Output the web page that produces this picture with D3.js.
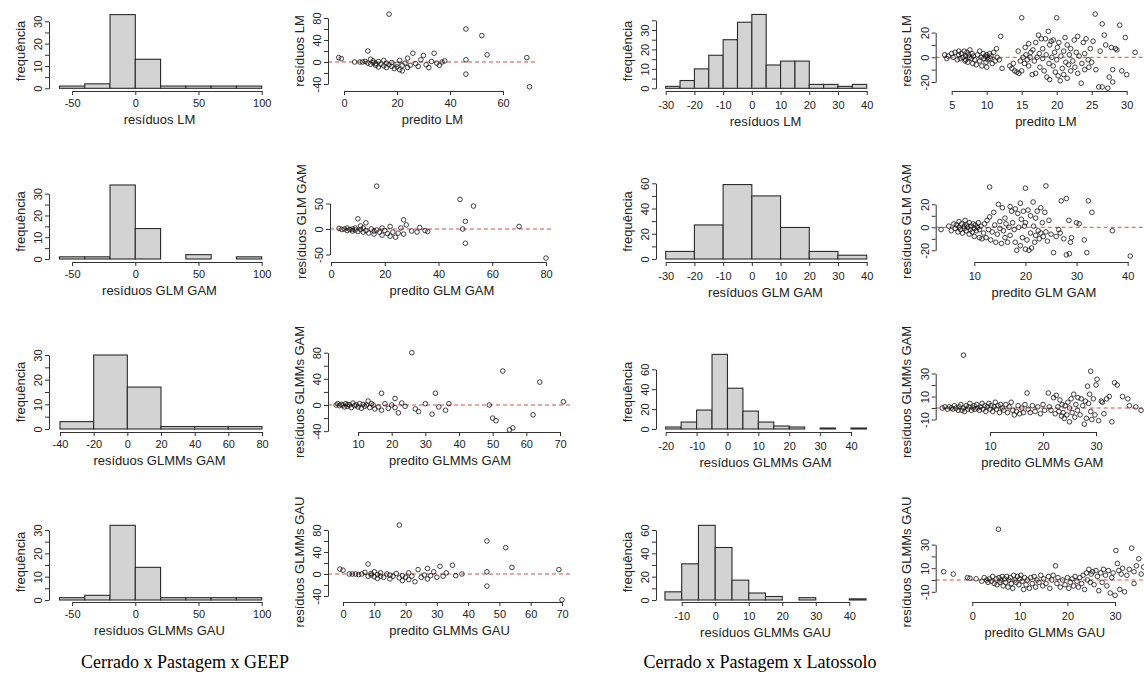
<!DOCTYPE html>
<html>
<head>
<meta charset="utf-8">
<script src="https://cdn.jsdelivr.net/npm/d3@7"></script>
<style>
  body { margin: 0; background: #fff; }
  svg text { font-family: "Liberation Sans", Arial, sans-serif; fill: #222; }
  .caption { font-family: "Liberation Serif", "Times New Roman", serif; font-size: 18px; fill: #000; }
</style>
</head>
<body>
<svg id="fig" width="1144" height="679"></svg>
<script>
// ---- histogram data (breaks + counts) ----
var lmGeepBreaks = [-60, -40, -20, 0, 20, 40, 60, 80, 100];
var lmGeepCounts = [1, 2, 33, 13, 1, 1, 1, 1];
var glmGeepBreaks = [-60, -40, -20, 0, 20, 40, 60, 80, 100];
var glmGeepCounts = [1, 1, 34, 14, 0, 2, 0, 1];
var gamGeepBreaks = [-40, -20, 0, 20, 40, 60, 80];
var gamGeepCounts = [3, 30, 17, 1, 1, 1];
var gauGeepBreaks = [-60, -40, -20, 0, 20, 40, 60, 80, 100];
var gauGeepCounts = [1, 2, 32, 14, 1, 1, 1, 1];

var lmLatBreaks = [-30, -25, -20, -15, -10, -5, 0, 5, 10, 15, 20, 25, 30, 35, 40];
var lmLatCounts = [1, 4, 10, 17, 25, 34, 38, 12, 14, 14, 2, 2, 1, 2];
var glmLatBreaks = [-30, -20, -10, 0, 10, 20, 30, 40];
var glmLatCounts = [6, 27, 59, 50, 25, 6, 3];
var gamLatBreaks = [-20, -15, -10, -5, 0, 5, 10, 15, 20, 25, 30, 35, 40, 45];
var gamLatCounts = [2, 7, 19, 75, 41, 18, 7, 3, 2, 0, 1, 0, 1];
var gauLatBreaks = [-15, -10, -5, 0, 5, 10, 15, 20, 25, 30, 35, 40, 45];
var gauLatCounts = [7, 31, 64, 45, 17, 6, 3, 0, 2, 0, 0, 1];

// ---- residual vs fitted (predito, resíduo) ----
var lmGeepPts = [[-2,8],[-1,6],[4,0],[6,0],[7,0],[8,1],[9,-2],[9,20],[10,5],[10,-4],[11,-1],[11,2],[12,-6],[12,-3],[13,-9],[13,1],[14,-4],[15,-7],[15,3],[16,-2],[16,-10],[17,87],[17,-5],[18,-1],[18,-8],[19,-12],[20,-4],[20,-9],[21,3],[21,-14],[22,-6],[22,-16],[23,-2],[24,7],[24,-10],[25,-6],[26,16],[27,-3],[28,-8],[29,4],[30,12],[31,-5],[32,-10],[33,1],[34,16],[35,-2],[36,-6],[37,0],[38,2],[46,60],[46,4],[46,-22],[52,48],[54,13],[69,8],[70,-45]];
var glmGeepPts = [[3,1],[4,-1],[5,0],[6,2],[6,-3],[7,-1],[8,0],[8,-4],[9,2],[9,-2],[10,-5],[10,20],[11,-1],[11,6],[12,-6],[12,2],[13,-3],[13,12],[14,-8],[15,0],[16,-4],[16,-10],[17,84],[17,-2],[18,-6],[19,-12],[19,2],[20,-3],[21,-9],[22,-14],[22,5],[23,-6],[24,-16],[25,-8],[26,2],[27,18],[27,-10],[28,8],[30,-4],[32,-6],[33,3],[35,-3],[36,-5],[48,58],[49,0],[50,15],[50,-28],[53,45],[70,5],[80,-57]];
var gamGeepPts = [[3.5,0],[4,2],[4.5,-1],[5,1],[5.5,0],[6,-3],[6.3,2],[6.8,-2],[7,1],[7.5,0],[8,-4],[8.5,3],[9,-1],[9.5,0],[10,-3],[10.5,2],[11,-5],[11.5,1],[12,-2],[12.5,0],[13,6],[13.5,-4],[14,2],[14.5,0],[15,-6],[16,-3],[17,18],[17,-8],[18,2],[19,-5],[20,0],[21,10],[21,-4],[22,-12],[23,3],[24,-2],[26,80],[27,-6],[28,-10],[30,2],[32,-14],[33,18],[34,-3],[36,-8],[37,2],[49,0],[50,-20],[51,-24],[53,52],[55,-38],[56,-35],[62,-15],[64,35],[71,5]];
var gauGeepPts = [[-1,9],[0,7],[2,0],[3,0],[4,0],[5,-1],[6,0],[7,3],[8,18],[8,-4],[9,1],[9,-2],[10,-5],[10,4],[11,-1],[11,-8],[12,2],[12,-4],[13,-6],[14,0],[15,-9],[15,-2],[16,-4],[17,1],[18,89],[18,-7],[19,-3],[19,-12],[20,-6],[21,2],[21,-10],[22,-4],[23,-14],[24,8],[25,-6],[26,-2],[27,10],[27,-9],[28,-3],[29,4],[30,-6],[31,14],[32,-4],[33,2],[35,16],[36,-3],[38,0],[46,60],[46,4],[46,-22],[52,48],[54,12],[69,8],[70,-47]];

var lmLatPts = [[4,2],[4.3,-1],[4.5,1],[5,3],[5.2,0],[5.5,4],[5.8,-2],[6,2],[6,5],[6.2,-1],[6.4,3],[6.6,0],[6.8,5],[6.9,-3],[7,1],[7,-2],[7.2,4],[7.3,-4],[7.4,2],[7.5,0],[7.6,6],[7.8,-1],[7.9,3],[8,-5],[8.1,1],[8.3,-2],[8.5,-6],[8.7,2],[9,-3],[9,5],[9.2,0],[9.3,-7],[9.5,3],[9.6,-1],[9.8,1],[9.9,-4],[10,2],[10,-8],[10.1,0],[10.2,-2],[10.4,3],[10.5,-1],[10.6,1],[10.8,-5],[11,4],[11.2,-3],[11.4,7],[11.5,0],[11.8,-2],[12,17],[12.2,-9],[13.3,-7],[13.6,-9],[13.8,-5],[14,-11],[14.3,-12],[14.5,5],[14.6,-13],[14.8,-3],[15,32],[15,-11],[15.2,0],[15.4,-5],[15.5,8],[15.6,2],[15.8,-2],[16,11],[16,-7],[16.2,0],[16.3,4],[16.5,-14],[16.6,6],[16.8,-3],[17,12],[17,-13],[17.2,0],[17.4,18],[17.5,3],[17.6,-8],[17.8,15],[18,-1],[18,7],[18.2,-11],[18.4,15],[18.5,2],[18.6,-16],[18.8,21],[18.9,-5],[19,10],[19,-18],[19.2,13],[19.3,0],[19.5,-7],[19.5,14],[19.7,4],[19.8,-12],[20,32],[20,-2],[20.1,8],[20.2,-15],[20.3,12],[20.5,-19],[20.6,1],[20.8,-9],[21,5],[21,-14],[21.2,16],[21.3,-4],[21.5,-17],[21.5,10],[21.7,-6],[21.8,2],[22,-11],[22,7],[22.3,-3],[22.5,14],[22.6,-8],[22.8,4],[23,-13],[23,17],[23.2,1],[23.5,-21],[23.6,-5],[23.8,12],[24,-10],[24,3],[24.2,15],[24.5,-2],[24.6,-8],[24.8,7],[25,-4],[25.2,13],[25.5,35],[25.6,-10],[26,-24],[26.2,5],[26.5,27],[26.5,-24],[26.8,18],[27,10],[27.3,-25],[27.5,-16],[27.8,8],[28,-20],[28,-10],[28.4,7],[28.6,6],[29,26],[29.3,-11],[29.8,16],[30,-14],[31.2,4],[33,5]];
var glmLatPts = [[3.5,-2],[5,1],[5.5,-3],[6,3],[6.3,-1],[6.5,2],[6.8,-4],[7,0],[7,5],[7.3,-2],[7.5,3],[7.7,-5],[8,1],[8,-1],[8.2,6],[8.4,-3],[8.5,2],[8.7,0],[9,-6],[9,4],[9.2,-2],[9.4,1],[9.6,-4],[9.8,3],[10,-1],[10,-8],[10.2,2],[10.4,-3],[10.6,0],[10.8,4],[11,-9],[11,-2],[11.3,1],[11.5,-10],[11.8,-5],[12,3],[12.3,-9],[12.5,6],[12.8,-2],[13,35],[13,9],[13.2,-11],[13.5,-4],[13.8,13],[14,2],[14.2,-13],[14.5,-6],[14.7,20],[15,5],[15,-1],[15.3,-14],[15.5,17],[15.7,-3],[16,8],[16,-9],[16.2,3],[16.5,-13],[16.8,0],[17,18],[17,-7],[17.3,14],[17.5,4],[17.8,-2],[18,16],[18,-13],[18.3,-20],[18.5,12],[18.7,0],[19,21],[19,-16],[19.2,7],[19.4,-9],[19.6,14],[19.8,1],[20,34],[20,-19],[20,4],[20.3,-11],[20.5,15],[20.7,-20],[21,10],[21,-5],[21.2,-18],[21.5,22],[21.6,1],[21.8,-13],[22,8],[22,-7],[22.3,14],[22.5,-3],[22.7,-10],[23,17],[23,-5],[23.3,4],[23.5,-8],[23.8,13],[24,36],[24,-4],[24.3,-12],[24.6,6],[25,-6],[25.5,-22],[26,-8],[26.5,-2],[26.8,-5],[27,23],[27.5,-10],[28,25],[28,-24],[28.5,6],[28.6,-23],[28.8,-13],[29,-9],[30,4],[30.5,3],[31.5,-11],[32,-22],[32.3,23],[33,13],[37,-3],[40.5,-25]];
var gamLatPts = [[1,0],[1.5,1],[2,-1],[2.3,1],[2.7,0],[3,-1],[3.3,2],[3.6,0],[4,-2],[4.2,1],[4.5,3],[4.7,-2],[5,46],[5,0],[5.2,-3],[5.5,2],[5.8,-1],[6,1],[6.2,4],[6.5,-2],[6.8,0],[7,2],[7.2,-1],[7.5,3],[7.7,0],[8,-2],[8.2,1],[8.5,4],[8.7,-1],[9,2],[9.2,-3],[9.5,1],[9.8,4],[10,-1],[10.2,2],[10.5,-3],[10.8,1],[11,5],[11.2,-1],[11.5,2],[11.8,-4],[12,3],[12.3,0],[12.6,-2],[13,3],[13.3,-4],[13.6,1],[14,5],[14.3,-2],[14.6,-6],[15,-3],[15.3,2],[15.6,-5],[16,0],[16.3,-4],[16.6,3],[17,13],[17.2,-1],[17.6,-4],[18,2],[18.5,-3],[19,1],[19.5,-5],[20,3],[20.3,-2],[21,13],[21.2,1],[21.5,-2],[22,9],[22.3,-5],[22.5,11],[22.8,1],[23,-3],[23.2,7],[23.5,-7],[23.6,3],[23.8,-4],[24,-9],[24.2,2],[24.5,-6],[24.7,5],[25,-12],[25,0],[25.3,8],[25.5,-4],[25.8,12],[26,-8],[26.2,3],[26.5,-2],[26.6,9],[27,-6],[27.2,8],[27.5,2],[27.8,-14],[28,6],[28.2,-9],[28.4,19],[28.6,4],[28.8,12],[29,32],[29,-3],[29.2,-10],[29.5,8],[29.8,-6],[30,20],[30.2,25],[30.5,-11],[31,6],[31.2,5],[31.5,-5],[32,8],[32.5,10],[33,-12],[33.5,22],[34,20],[35,10],[36,8],[36.3,2],[37.5,1],[38.5,-2]];
var gauLatPts = [[-6,7],[-4,5],[-1,2],[-0.5,1.5],[0.8,1],[2,-1],[2.5,2],[3,0],[3.3,-2],[3.6,1],[4,-1],[4.3,3],[4.6,-3],[5,1],[5.2,-4],[5.5,43],[5.6,2],[5.8,-2],[6,0],[6.3,3],[6.5,-5],[6.8,1],[7,-2],[7.2,3],[7.5,-6],[7.7,0],[8,2],[8.2,-3],[8.5,-7],[8.7,4],[9,0],[9.2,-2],[9.5,3],[9.8,-4],[10,1],[10.2,4],[10.5,-1],[10.8,-8],[11,2],[11.3,-4],[11.6,0],[12,-7],[12.3,2],[12.6,-3],[13,3],[13.3,-6],[13.6,0],[14,-2],[14.4,4],[14.8,-5],[15,1],[15.5,-3],[16,3],[16.3,-7],[16.7,0],[17,4],[17.5,12],[17.8,-3],[18,2],[18.5,-6],[19,0],[19.5,-4],[20,2],[20.3,-7],[20.6,-2],[21,1],[21.3,-5],[21.6,3],[22,-1],[22.3,-6],[22.6,2],[23,-3],[23.3,4],[23.6,-8],[24,6],[24.2,0],[24.5,9],[24.8,-2],[25,5],[25.3,7],[25.6,-4],[26,8],[26.3,3],[26.6,-9],[27,6],[27.3,-2],[27.6,9],[28,4],[28.3,-5],[28.6,8],[29,-11],[29.3,2],[29.6,6],[30,-13],[30.2,25],[30.5,14],[30.8,8],[31,-8],[31.3,5],[31.6,10],[32,-10],[32.5,4],[33,9],[33.5,27],[34,7],[34,-3],[34.5,12],[35,18],[35.5,5],[36,11]];

// ---- tick values ----
var ticksGeepHist = [-50, 0, 50, 100];
var ticksGamGeepHist = [-40, -20, 0, 20, 40, 60, 80];
var ticksFreq5 = [0, 5, 10, 15, 20, 25, 30];
var ticksLatHist = [-30, -20, -10, 0, 10, 20, 30, 40];
var ticksGamLatHist = [-20, -10, 0, 10, 20, 30, 40];
var ticksGauLatHist = [-10, 0, 10, 20, 30, 40];
var ticksFreq35 = [0, 5, 10, 15, 20, 25, 30, 35];
var ticksFreq60 = [0, 10, 20, 30, 40, 50, 60];
var ticksFreq60b = [0, 20, 40, 60];

var svg = d3.select("#fig");

// layout for each panel: anchors map two data values to pixels, plus the plot box
var panels = [
  // Cerrado x Pastagem x GEEP
  {kind: "hist", breaks: lmGeepBreaks, counts: lmGeepCounts, xa: [0, 100], xp: [135.3, 261.7], ya: [0, 30], yp: [88.3, 21.3],
   left: 49, right: 270, top: 11, bottom: 91, xt: ticksGeepHist, yt: ticksFreq5, yl: [0, 10, 20, 30], xtitle: "resíduos LM", ytitle: "frequência", side: "L"},
  {kind: "scat", pts: lmGeepPts, xa: [0, 60], xp: [344, 503], ya: [0, 80], yp: [62, 18],
   left: 328, right: 537, top: 11, bottom: 91, xt: [0, 20, 40, 60], yt: [-40, -20, 0, 20, 40, 60, 80], yl: [-40, 0, 40, 80], xtitle: "predito LM", ytitle: "resíduos LM", side: "L"},
  {kind: "hist", breaks: glmGeepBreaks, counts: glmGeepCounts, xa: [0, 100], xp: [135.3, 261.7], ya: [0, 30], yp: [259, 193.7],
   left: 49, right: 270, top: 181, bottom: 262, xt: ticksGeepHist, yt: ticksFreq5, yl: [0, 10, 20, 30], xtitle: "resíduos GLM GAM", ytitle: "frequência", side: "L"},
  {kind: "scat", pts: glmGeepPts, xa: [0, 80], xp: [331, 546], ya: [0, 50], yp: [229, 203.5],
   left: 330, right: 554, top: 181, bottom: 262, xt: [0, 20, 40, 60, 80], yt: [-50, 0, 50], yl: [-50, 0, 50], xtitle: "predito GLM GAM", ytitle: "resíduos GLM GAM", side: "L"},
  {kind: "hist", breaks: gamGeepBreaks, counts: gamGeepCounts, xa: [-40, 80], xp: [60, 262], ya: [0, 30], yp: [429, 355],
   left: 49, right: 270, top: 352, bottom: 432, xt: ticksGamGeepHist, yt: ticksFreq5, yl: [0, 10, 20, 30], xtitle: "resíduos GLMMs GAM", ytitle: "frequência", side: "L"},
  {kind: "scat", pts: gamGeepPts, xa: [10, 70], xp: [358, 560], ya: [0, 80], yp: [405, 352.7],
   left: 328, right: 572, top: 352, bottom: 432, xt: [10, 20, 30, 40, 50, 60, 70], yt: [-40, -20, 0, 20, 40, 60, 80], yl: [-40, 0, 40, 80], xtitle: "predito GLMMs GAM", ytitle: "resíduos GLMMs GAM", side: "L"},
  {kind: "hist", breaks: gauGeepBreaks, counts: gauGeepCounts, xa: [0, 100], xp: [135.3, 261.7], ya: [0, 30], yp: [600, 530],
   left: 49, right: 270, top: 522, bottom: 602, xt: ticksGeepHist, yt: ticksFreq5, yl: [0, 10, 20, 30], xtitle: "resíduos GLMMs GAU", ytitle: "frequência", side: "L"},
  {kind: "scat", pts: gauGeepPts, xa: [0, 70], xp: [343, 562], ya: [0, 80], yp: [574, 530],
   left: 328, right: 571, top: 522, bottom: 602, xt: [0, 10, 20, 30, 40, 50, 60, 70], yt: [-40, -20, 0, 20, 40, 60, 80], yl: [-40, 0, 40, 80], xtitle: "predito GLMMs GAU", ytitle: "resíduos GLMMs GAU", side: "L"},

  // Cerrado x Pastagem x Latossolo
  {kind: "hist", breaks: lmLatBreaks, counts: lmLatCounts, xa: [-30, 40], xp: [665.7, 866.7], ya: [0, 30], yp: [88.3, 30],
   left: 656, right: 875, top: 11, bottom: 91, xt: ticksLatHist, yt: ticksFreq35, yl: [0, 10, 20, 30], xtitle: "resíduos LM", ytitle: "frequência", side: "R"},
  {kind: "scat", pts: lmLatPts, xa: [5, 30], xp: [951.7, 1126.7], ya: [0, 20], yp: [57.3, 32.6],
   left: 935.7, right: 1156, top: 11, bottom: 91, xt: [5, 10, 15, 20, 25, 30], yt: [-20, -10, 0, 10, 20], yl: [-20, 0, 20], xtitle: "predito LM", ytitle: "resíduos LM", side: "R"},
  {kind: "hist", breaks: glmLatBreaks, counts: glmLatCounts, xa: [-30, 40], xp: [665.7, 866.7], ya: [0, 60], yp: [259, 183.3],
   left: 656, right: 875, top: 181, bottom: 262, xt: ticksLatHist, yt: ticksFreq60, yl: [0, 20, 40, 60], xtitle: "resíduos GLM GAM", ytitle: "frequência", side: "R"},
  {kind: "scat", pts: glmLatPts, xa: [10, 40], xp: [974.3, 1127.7], ya: [0, 20], yp: [227.3, 204.3],
   left: 935.7, right: 1152, top: 181, bottom: 262, xt: [10, 20, 30, 40], yt: [-20, -10, 0, 10, 20], yl: [-20, 0, 20], xtitle: "predito GLM GAM", ytitle: "resíduos GLM GAM", side: "R"},
  {kind: "hist", breaks: gamLatBreaks, counts: gamLatCounts, xa: [-20, 40], xp: [665.7, 851], ya: [0, 60], yp: [429, 369.3],
   left: 656, right: 875, top: 352, bottom: 432, xt: ticksGamLatHist, yt: ticksFreq60b, yl: [0, 20, 40, 60], xtitle: "resíduos GLMMs GAM", ytitle: "frequência", side: "R"},
  {kind: "scat", pts: gamLatPts, xa: [10, 30], xp: [990, 1096], ya: [0, 10], yp: [408, 396.5],
   left: 935.7, right: 1149, top: 352, bottom: 432, xt: [10, 20, 30], yt: [-10, 0, 10, 20, 30], yl: [-10, 10, 30], xtitle: "predito GLMMs GAM", ytitle: "resíduos GLMMs GAM", side: "R"},
  {kind: "hist", breaks: gauLatBreaks, counts: gauLatCounts, xa: [-10, 40], xp: [681.7, 849.3], ya: [0, 60], yp: [600, 530],
   left: 656, right: 875, top: 522, bottom: 602, xt: ticksGauLatHist, yt: ticksFreq60, yl: [0, 20, 40, 60], xtitle: "resíduos GLMMs GAU", ytitle: "frequência", side: "R"},
  {kind: "scat", pts: gauLatPts, xa: [0, 30], xp: [972.3, 1115], ya: [0, 10], yp: [580, 568.2],
   left: 935.7, right: 1154, top: 522, bottom: 602, xt: [0, 10, 20, 30], yt: [-10, 0, 10, 20, 30], yl: [-10, 10, 30], xtitle: "predito GLMMs GAU", ytitle: "resíduos GLMMs GAU", side: "R"}
];

var tickFont = 11, titleFont = 13;

function drawAxes(g, p, x, y) {
  var xt = p.xt, yt = p.yt;
  var labOff = p.side == "L" ? 12 : 14;
  // x axis: line only spans first..last tick, like base R
  var xs = x.copy().domain([xt[0], xt[xt.length - 1]]).range([x(xt[0]), x(xt[xt.length - 1])]);
  var ax = g.append("g")
    .attr("transform", "translate(0," + p.bottom + ")")
    .call(d3.axisBottom(xs).tickValues(xt).tickSize(4).tickSizeOuter(0).tickFormat(function (d) { return String(d); }));
  ax.selectAll("text").attr("y", labOff).attr("dy", "0.35em").style("font-size", tickFont + "px");

  var ys = y.copy().domain([yt[0], yt[yt.length - 1]]).range([y(yt[0]), y(yt[yt.length - 1])]);
  var ay = g.append("g")
    .attr("transform", "translate(" + p.left + ",0)")
    .call(d3.axisLeft(ys).tickValues(yt).tickSize(4).tickSizeOuter(0)
      .tickFormat(function (d) { return p.yl.indexOf(d) >= 0 ? String(d) : ""; }));
  ay.selectAll("text")
    .attr("x", null).attr("dy", "0.35em")
    .attr("transform", "translate(-11,0) rotate(-90)")
    .attr("text-anchor", "middle")
    .style("font-size", tickFont + "px");

  g.selectAll(".domain, .tick line").attr("stroke", "#333");
  g.selectAll(".tick text").attr("fill", "#222");

  // titles
  g.append("text")
    .attr("x", (p.left + p.right) / 2)
    .attr("y", p.bottom + labOff + 16)
    .attr("dy", "0.35em")
    .attr("text-anchor", "middle")
    .style("font-size", titleFont + "px")
    .text(p.xtitle);

  var tx = p.kind == "hist" ? p.left - 29 : p.left - 29;
  g.append("text")
    .attr("transform", "translate(" + tx + "," + ((p.top + p.bottom) / 2) + ") rotate(-90)")
    .attr("dy", "0.35em")
    .attr("text-anchor", "middle")
    .style("font-size", titleFont + "px")
    .text(p.ytitle);
}

panels.forEach(function (p) {
  var x = d3.scaleLinear().domain(p.xa).range(p.xp);
  var y = d3.scaleLinear().domain(p.ya).range(p.yp);
  var g = svg.append("g");

  if (p.kind == "hist") {
    var bins = p.counts.map(function (c, i) { return {x0: p.breaks[i], x1: p.breaks[i + 1], n: c}; });
    g.selectAll("rect.bar").data(bins).enter().append("rect")
      .attr("class", "bar")
      .attr("x", function (d) { return x(d.x0); })
      .attr("width", function (d) { return x(d.x1) - x(d.x0); })
      .attr("y", function (d) { return y(d.n); })
      .attr("height", function (d) { return y(0) - y(d.n); })
      .attr("fill", "#d3d3d3")
      .attr("stroke", "#2b2b2b")
      .attr("stroke-width", 1.1);
  } else {
    g.append("line")
      .attr("x1", p.left).attr("x2", p.right)
      .attr("y1", y(0)).attr("y2", y(0))
      .attr("stroke", "#d0504a")
      .attr("stroke-width", 1)
      .attr("stroke-dasharray", "4,3");
    g.selectAll("circle").data(p.pts).enter().append("circle")
      .attr("cx", function (d) { return x(d[0]); })
      .attr("cy", function (d) { return y(d[1]); })
      .attr("r", 2.3)
      .attr("fill", "none")
      .attr("stroke", "#111")
      .attr("stroke-width", 0.8);
  }
  drawAxes(g, p, x, y);
});

svg.append("text").attr("class", "caption")
  .attr("x", 185).attr("y", 668).attr("text-anchor", "middle")
  .text("Cerrado x Pastagem x GEEP");
svg.append("text").attr("class", "caption")
  .attr("x", 760).attr("y", 668).attr("text-anchor", "middle")
  .text("Cerrado x Pastagem x Latossolo");
</script>
</body>
</html>
